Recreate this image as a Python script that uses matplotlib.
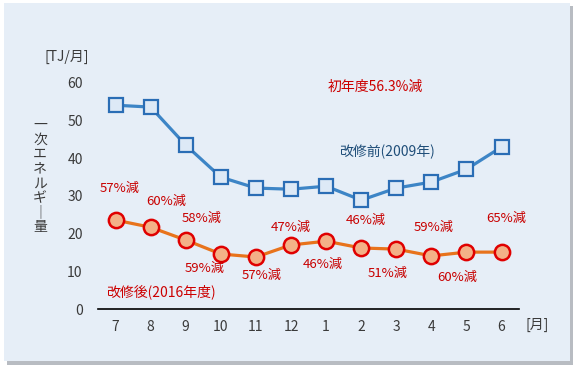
import matplotlib
matplotlib.use("Agg")
import matplotlib.pyplot as plt
from matplotlib.patches import Rectangle

plt.rcParams['font.family'] = ['Noto Sans CJK JP', 'DejaVu Sans']

months = ["7", "8", "9", "10", "11", "12", "1", "2", "3", "4", "5", "6"]
before_2009 = [54.1, 53.6, 43.5, 35.0, 32.1, 31.8, 32.6, 28.9, 32.1, 33.7, 37.1, 43.0]
after_2016 = [23.6, 21.7, 18.3, 14.6, 13.8, 17.0, 18.0, 16.2, 15.9, 14.1, 15.1, 15.1]
reduction = ["57%減", "60%減", "58%減", "59%減", "57%減", "47%減",
             "46%減", "46%減", "51%減", "59%減", "60%減", "65%減"]
# label offsets in pixels (dx, dy up)
label_off = [(4, 32), (16, 26), (16, 22), (-16, -14), (6, -18), (0, 17),
             (-3, -23), (5, 27), (-9, -24), (2, 28), (-9, -25), (5, 34)]

fig = plt.figure(figsize=(5.8, 3.71), dpi=100)
fig.patch.set_facecolor("white")

# panel with shadow
fig.patches.append(Rectangle((0.012, 0.017), 0.976, 0.968, transform=fig.transFigure,
                             facecolor="#b8bcc2", edgecolor="none", zorder=-2))
fig.patches.append(Rectangle((0.007, 0.027), 0.976, 0.965, transform=fig.transFigure,
                             facecolor="#e6eef7", edgecolor="none", zorder=-1))

ax = fig.add_axes([0.169, 0.1671, 0.726, 0.660])
ax.set_facecolor("none")
x = list(range(len(months)))

ax.plot(x, before_2009, color="#3d85c6", lw=2.3, marker="s", markersize=10,
        markerfacecolor="#dde9f6", markeredgecolor="#2a6db5", markeredgewidth=1.6, zorder=3)
ax.plot(x, after_2016, color="#e8731c", lw=2.3, marker="o", markersize=11,
        markerfacecolor="#f3b187", markeredgecolor="#e00000", markeredgewidth=1.8, zorder=3)

for xi, yi, lab, (dx, dy) in zip(x, after_2016, reduction, label_off):
    ax.annotate(lab, (xi, yi), xytext=(dx * 0.72, dy * 0.72), textcoords="offset points",
                ha="center", va="center", color="#c80000", fontsize=9.5, annotation_clip=False)

ax.set_xlim(-0.5, 11.5)
ax.set_ylim(0, 65)
ax.set_xticks(x)
ax.set_xticklabels(months)
ax.set_yticks([0, 10, 20, 30, 40, 50, 60])
for s in ["top", "right", "left"]:
    ax.spines[s].set_visible(False)
ax.spines["bottom"].set_color("black")
ax.spines["bottom"].set_linewidth(1.2)
ax.tick_params(axis="both", length=0, labelsize=10, labelcolor="#3a3a3a")
ax.tick_params(axis="y", pad=11)
ax.tick_params(axis="x", pad=8)

fig.text(67 / 580, 1 - 57 / 371, "[TJ/月]", ha="center", va="center", fontsize=10, color="#3a3a3a")
fig.text(537 / 580, 1 - 325 / 371, "[月]", ha="center", va="center", fontsize=10, color="#3a3a3a")
fig.text(40 / 580, 1 - 176 / 371, "\n".join("一次エネルギ｜量"), ha="center", va="center",
         fontsize=10, color="#3a3a3a", linespacing=1.05)

fig.text(375 / 580, 1 - 87 / 371, "初年度56.3%減", ha="center", va="center", fontsize=10, color="#cc0000")
fig.text(387 / 580, 1 - 152 / 371, "改修前(2009年)", ha="center", va="center", fontsize=10, color="#1f4e79")
fig.text(161 / 580, 1 - 292 / 371, "改修後(2016年度)", ha="center", va="center", fontsize=10, color="#cc0000")

fig.savefig("out.png", dpi=100, facecolor=fig.get_facecolor())
